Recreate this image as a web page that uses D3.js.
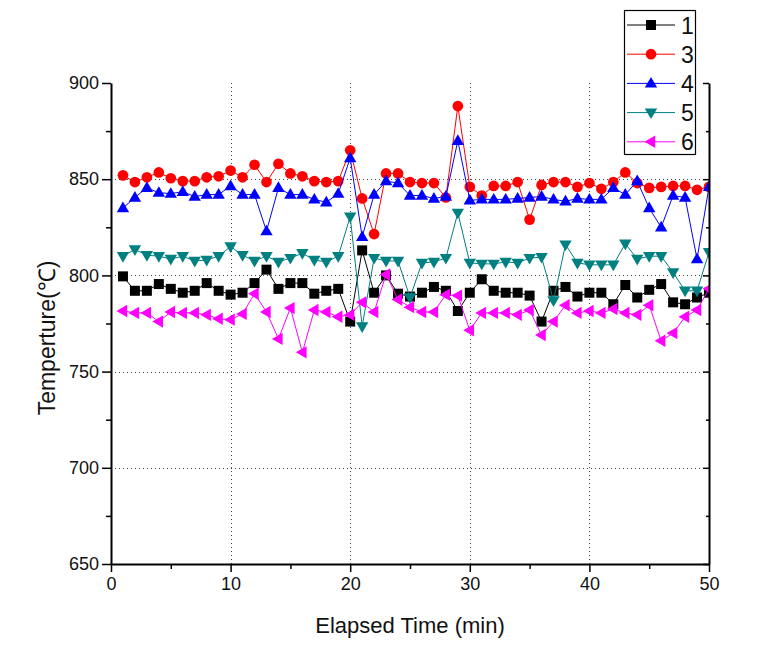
<!DOCTYPE html>
<html><head><meta charset="utf-8">
<script src="https://cdn.jsdelivr.net/npm/d3@7/dist/d3.min.js"></script>
<style>body{margin:0;background:#fff}text{font-family:"Liberation Sans",Arial,sans-serif}</style>
</head><body><svg id="c" width="763" height="666"></svg>
<script>
const times = [1,2,3,4,5,6,7,8,9,10,11,12,13,14,15,16,17,18,19,20,21,22,23,24,25,26,27,28,29,30,31,32,33,34,35,36,37,38,39,40,41,42,43,44,45,46,47,48,49,50];
const s1 = [799.5,792,792,795.5,793,791,792,796,792,790, 791,796,803,793,796,796,790.5,792,793,776, 813,791,800,790.5,789,791,794,792,781.5,791, 798,792,791,791,789.5,776,792,794,789,791, 791,785,795,788.5,792.5,795.5,786,785,788.5,791];
const s3 = [852,848.5,851,853.5,850.5,849,849,851,851.5,854.5, 851,857.5,848.5,858,853,851.5,849,848.5,849,865, 840,821.5,853,853,848.5,848,848,840.5,888,846, 841.5,846.5,846.5,848.5,829,847,848.5,848.5,846,848, 845,848.5,853.5,848,845.5,846,846.5,846.5,844.5,846];
const s4 = [835,840.5,845.5,843,842.5,843.5,841,842,842,846.5, 842,842,823,845.5,842,842,839.5,838,842.5,861, 820,842,849,848,841.5,841.5,840,841,870,839, 839.5,839.5,839.5,840,840.5,841,839.5,838.5,840,839.5, 839.5,845.5,842,849,835,825,841.5,840.5,808.5,846];
const s5 = [810,813.5,810.5,810,808.5,810,807.5,808,810,815, 810.5,807.5,810,807,809,811.5,808,807,810,830.5, 773.5,809,807.5,807.5,788.5,806.5,807,809,832.5,806.5, 806,806,807,806.5,809,809.5,787,816,806.5,805.5, 805.5,805.5,816.5,808.5,810,810,801.5,792,792,812];
const s6 = [781.5,780.5,780.5,776,781,780.5,780.5,779.5,777.5,777, 780,790.5,781,767,783,760,782,781,778.5,779.5, 786,781,800.5,787.5,783.5,781,781,790,789.5,771.5, 780.5,780.5,780.5,779.5,782,769,776,784.5,780.5,781.5, 780.5,782.5,780.5,779.5,784.5,766,770,778.5,782,793];
const seriesNames = ["1","3","4","5","6"];
const seriesColors = ["#000000","#ff0000","#0000ff","#008080","#ff00ff"];
const seriesShapes = ["square","circle","up","down","left"];
const xMajor = [0,10,20,30,40,50];
const xMinor = [5,15,25,35,45];
const yMajor = [650,700,750,800,850,900];
const yMinor = [675,725,775,825,875];

const series = [s1,s3,s4,s5,s6].map((v,i)=>({name:seriesNames[i],color:seriesColors[i],shape:seriesShapes[i],values:v}));

const svg = d3.select("#c");
const L=111, R=709, T=83, B=564;
const x = d3.scaleLinear().domain([0,50]).range([L,R]);
const y = d3.scaleLinear().domain([650,900]).range([B,T]);

const shapePath = {
  square: "M-5,-5H5V5H-5Z",
  circle: d3.symbol(d3.symbolCircle, 90)(),
  up: "M0,-6.5L6.2,4.2L-6.2,4.2Z",
  down: "M0,6.5L6.2,-4.2L-6.2,-4.2Z",
  left: "M-6.5,0L4.2,-6.2L4.2,6.2Z"
};

svg.append("defs").append("clipPath").attr("id","clip")
  .append("rect").attr("x",L).attr("y",0).attr("width",R-L).attr("height",B);

// grid
const grid = svg.append("g").attr("stroke","#444").attr("stroke-width",1).attr("stroke-dasharray","1,3");
grid.selectAll("line.gx").data(xMajor.filter(d=>d>0&&d<50)).join("line")
  .attr("x1",d=>Math.round(x(d))+0.5).attr("x2",d=>Math.round(x(d))+0.5).attr("y1",T).attr("y2",B);
grid.selectAll("line.gy").data(yMajor.filter(d=>d>650&&d<900)).join("line").attr("class","gy")
  .attr("y1",d=>Math.round(y(d))+0.5).attr("y2",d=>Math.round(y(d))+0.5).attr("x1",L).attr("x2",R);

// data
const plot = svg.append("g").attr("clip-path","url(#clip)");
const line = d3.line().x((d,i)=>x(times[i])).y(d=>y(d));
series.forEach(s=>{
  const g = plot.append("g");
  g.append("path").attr("d",line(s.values)).attr("fill","none").attr("stroke",s.color).attr("stroke-width",1);
  g.selectAll("path.m").data(s.values).join("path").attr("class","m")
    .attr("transform",(d,i)=>`translate(${x(times[i])},${y(d)})`)
    .attr("d",shapePath[s.shape]).attr("fill",s.color);
});

// axes
function styleAxis(g){
  g.select(".domain").attr("stroke","#000").attr("stroke-width",2);
  g.selectAll(".tick line").attr("stroke","#000").attr("stroke-width",1.5);
  g.selectAll(".tick text").attr("font-size",18).attr("fill","#111").attr("font-family","'Liberation Sans',Arial,sans-serif");
}
const xa = svg.append("g").attr("transform",`translate(0,${B})`)
  .call(d3.axisBottom(x).tickValues(xMajor).tickSize(8).tickSizeOuter(0).tickPadding(5).tickFormat(d3.format("d")));
styleAxis(xa);
const xm = svg.append("g").attr("transform",`translate(0,${B})`)
  .call(d3.axisBottom(x).tickValues(xMinor).tickSize(5).tickFormat(""));
xm.select(".domain").remove(); styleAxis(xm);

const ya = svg.append("g").attr("transform",`translate(${L},0)`)
  .call(d3.axisLeft(y).tickValues(yMajor).tickSize(9).tickSizeOuter(0).tickPadding(3).tickFormat(d3.format("d")));
styleAxis(ya);
const ym = svg.append("g").attr("transform",`translate(${L},0)`)
  .call(d3.axisLeft(y).tickValues(yMinor).tickSize(5).tickFormat(""));
ym.select(".domain").remove(); styleAxis(ym);

const ra = svg.append("g").attr("transform",`translate(${R},0)`)
  .call(d3.axisLeft(y).tickValues(yMajor).tickSize(6).tickSizeOuter(0).tickFormat(""));
styleAxis(ra);
const rm = svg.append("g").attr("transform",`translate(${R},0)`)
  .call(d3.axisLeft(y).tickValues(yMinor).tickSize(3).tickFormat(""));
rm.select(".domain").remove(); styleAxis(rm);

// titles
svg.append("text").attr("x",(L+R)/2).attr("y",633).attr("text-anchor","middle")
  .attr("font-size",22).attr("fill","#111").text("Elapsed Time (min)");
svg.append("text").attr("transform","translate(55,338) rotate(-90)").attr("text-anchor","middle")
  .attr("font-size",23).attr("fill","#111").text("Temperture(℃)");

// legend
const lg = svg.append("g");
lg.append("rect").attr("x",624.5).attr("y",10.5).attr("width",71).attr("height",144)
  .attr("fill","#fff").attr("stroke","#000").attr("stroke-width",1.2);
series.forEach((s,i)=>{
  const cy = 25 + i*29.2;
  lg.append("line").attr("x1",627).attr("x2",675).attr("y1",cy).attr("y2",cy).attr("stroke",s.color).attr("stroke-width",1);
  lg.append("path").attr("transform",`translate(651,${cy})`).attr("d",shapePath[s.shape]).attr("fill",s.color);
  lg.append("text").attr("x",681).attr("y",cy+8.5).attr("font-size",23).attr("fill","#111").text(s.name);
});
</script></body></html>
